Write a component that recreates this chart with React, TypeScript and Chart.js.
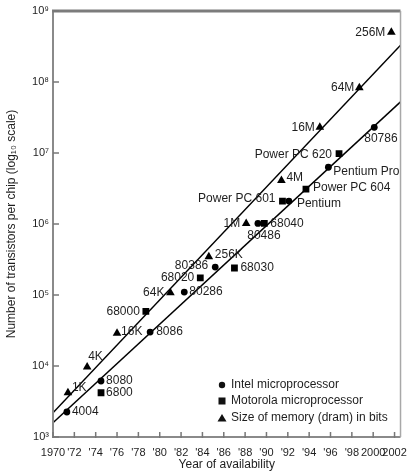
import React, { useEffect, useRef } from 'react';
import { Chart, registerables } from 'chart.js';

Chart.register(...registerables);

// ---- data ----
const intelNames = ['4004', '8080', '8086', '80286', '80386', '80486', 'Pentium', 'Pentium Pro', '80786'];
const intelYears = [1971.3, 1974.5, 1979.1, 1982.3, 1985.2, 1989.2, 1992.1, 1995.8, 2000.1];
const intelCounts = [2250, 6150, 30000, 110000, 247000, 1.02e6, 2.1e6, 6.3e6, 2.3e7];

const motorolaNames = ['6800', '68000', '68020', '68030', '68040', 'Power PC 601', 'Power PC 604', 'Power PC 620'];
const motorolaYears = [1974.5, 1978.7, 1983.8, 1987.0, 1989.8, 1991.5, 1993.7, 1996.8];
const motorolaCounts = [4200, 59000, 174000, 240000, 1.02e6, 2.1e6, 3.1e6, 9.8e6];

const dramNames = ['1K', '4K', '16K', '64K', '256K', '1M', '4M', '16M', '64M', '256M'];
const dramYears = [1971.4, 1973.2, 1976.0, 1981.0, 1984.6, 1988.1, 1991.4, 1995.0, 1998.7, 2001.7];
const dramCounts = [4200, 9700, 29000, 108000, 347000, 1.02e6, 4.1e6, 2.3e7, 8.3e7, 5.0e8];

const trendYears = [1970, 2002.56];
const upperTrend = [2190, 3.3e8];
const lowerTrend = [1585, 5.25e7];

const xTickYears = [1970, 1972, 1974, 1976, 1978, 1980, 1982, 1984, 1986, 1988, 1990, 1992, 1994, 1996, 1998, 2000, 2002];
const xTickLabels = ['1970', "'72", "'74", "'76", "'78", "'80", "'82", "'84", "'86", "'88", "'90", "'92", "'94", "'96", "'98", '2000', '2002'];
const yTicks = [1e3, 1e4, 1e5, 1e6, 1e7, 1e8, 1e9];
const yTickLabels = ['10³', '10⁴', '10⁵', '10⁶', '10⁷', '10⁸', '10⁹'];

const legendLabels = ['Intel microprocessor', 'Motorola microprocessor', 'Size of memory (dram) in bits'];
const xTitle = 'Year of availability';
const yTitle = 'Number of transistors per chip (log₁₀ scale)';

// ---- label placement (styling) : [dx, dy, align] ----
const labelPlacement: Record<string, [number, number, CanvasTextAlign]> = {
  '4004': [5, 0, 'left'],
  '8080': [5, 0, 'left'],
  '8086': [6, 0, 'left'],
  '80286': [5, 0, 'left'],
  '80386': [-7, -1, 'right'],
  '80486': [6, 12, 'center'],
  'Pentium': [8, 3, 'left'],
  'Pentium Pro': [5, 4, 'left'],
  '80786': [-10, 11, 'left'],
  '6800': [5, 0, 'left'],
  '68000': [-6, 0, 'right'],
  '68020': [-6, 0, 'right'],
  '68030': [6, 0, 'left'],
  '68040': [6, 0, 'left'],
  'Power PC 601': [-7, -2, 'right'],
  'Power PC 604': [7, -1, 'left'],
  'Power PC 620': [-7, 1, 'right'],
  '1K': [4, -5, 'left'],
  '4K': [1, -10, 'left'],
  '16K': [4, -1, 'left'],
  '64K': [-6, 0, 'right'],
  '256K': [6, -2, 'left'],
  '1M': [-6, 0, 'right'],
  '4M': [5, -3, 'left'],
  '16M': [-5, 0, 'right'],
  '64M': [-5, 0, 'right'],
  '256M': [-6, 0, 'right'],
};

const FONT = '"Liberation Sans", Arial, Helvetica, sans-serif';
const TEXT = '#1e1e1e';

const toPoints = (xs: number[], ys: number[]) => xs.map((x, i) => ({ x, y: ys[i] }));

const decorPlugin = {
  id: 'decor',
  afterDatasetsDraw(chart: any) {
    const { ctx, chartArea: a, scales } = chart;
    const xs = scales.x;
    const ys = scales.y;
    ctx.save();
    // axes / frame
    ctx.strokeStyle = '#8a8a8a';
    ctx.lineWidth = 2;
    ctx.beginPath();
    ctx.moveTo(a.left, a.top);
    ctx.lineTo(a.left, a.bottom);
    ctx.lineTo(a.right, a.bottom);
    ctx.stroke();
    ctx.strokeStyle = '#7c7c7c';
    ctx.lineWidth = 3;
    ctx.beginPath();
    ctx.moveTo(a.left - 1, a.top);
    ctx.lineTo(a.right, a.top);
    ctx.stroke();
    ctx.strokeStyle = '#a8a8a8';
    ctx.lineWidth = 1.5;
    ctx.beginPath();
    ctx.moveTo(a.right, a.top);
    ctx.lineTo(a.right, a.bottom);
    ctx.stroke();
    // inward ticks
    ctx.strokeStyle = '#777';
    ctx.lineWidth = 1.5;
    yTicks.forEach((v) => {
      const y = ys.getPixelForValue(v);
      ctx.beginPath();
      ctx.moveTo(a.left, y);
      ctx.lineTo(a.left + 6, y);
      ctx.stroke();
    });
    xTickYears.forEach((v) => {
      const x = xs.getPixelForValue(v);
      ctx.beginPath();
      ctx.moveTo(x, a.bottom + 1);
      ctx.lineTo(x, a.bottom - 5);
      ctx.stroke();
    });

    // point labels
    ctx.fillStyle = TEXT;
    ctx.font = `12px ${FONT}`;
    ctx.textBaseline = 'middle';
    const groups: [string[], number[], number[]][] = [
      [intelNames, intelYears, intelCounts],
      [motorolaNames, motorolaYears, motorolaCounts],
      [dramNames, dramYears, dramCounts],
    ];
    groups.forEach(([names, yrs, cnts]) => {
      names.forEach((n, i) => {
        const px = xs.getPixelForValue(yrs[i]);
        const py = ys.getPixelForValue(cnts[i]);
        const [dx, dy, al] = labelPlacement[n] || [5, 0, 'left'];
        ctx.textAlign = al;
        ctx.fillText(n, px + dx, py + dy);
      });
    });

    // legend
    const lx = 222;
    const rows = [385, 401, 418];
    ctx.fillStyle = '#111';
    ctx.beginPath();
    ctx.arc(lx, rows[0], 3.2, 0, Math.PI * 2);
    ctx.fill();
    ctx.fillRect(lx - 3.5, rows[1] - 3.5, 7, 7);
    ctx.beginPath();
    ctx.moveTo(lx, rows[2] - 4);
    ctx.lineTo(lx + 4.5, rows[2] + 3.5);
    ctx.lineTo(lx - 4.5, rows[2] + 3.5);
    ctx.closePath();
    ctx.fill();
    ctx.fillStyle = TEXT;
    ctx.textAlign = 'left';
    ctx.font = `12px ${FONT}`;
    legendLabels.forEach((t, i) => ctx.fillText(t, lx + 9, rows[i]));
    ctx.restore();
  },
};

export default function App() {
  const ref = useRef<HTMLCanvasElement | null>(null);
  useEffect(() => {
    document.body.style.margin = '0';
    const canvas = ref.current;
    if (!canvas) return;
    const chart = new Chart(canvas, {
      type: 'scatter',
      data: {
        datasets: [
          {
            type: 'line',
            data: toPoints(trendYears, upperTrend),
            borderColor: '#000',
            borderWidth: 1.5,
            pointRadius: 0,
            fill: false,
          } as any,
          {
            type: 'line',
            data: toPoints(trendYears, lowerTrend),
            borderColor: '#000',
            borderWidth: 1.5,
            pointRadius: 0,
            fill: false,
          } as any,
          {
            label: legendLabels[0],
            data: toPoints(intelYears, intelCounts),
            pointStyle: 'circle',
            pointRadius: 3.4,
            backgroundColor: '#000',
            borderColor: '#000',
            borderWidth: 0,
          },
          {
            label: legendLabels[1],
            data: toPoints(motorolaYears, motorolaCounts),
            pointStyle: 'rect',
            pointRadius: 4.8,
            backgroundColor: '#000',
            borderColor: '#000',
            borderWidth: 0,
          },
          {
            label: legendLabels[2],
            data: toPoints(dramYears, dramCounts),
            pointStyle: 'triangle',
            pointRadius: 5,
            backgroundColor: '#000',
            borderColor: '#000',
            borderWidth: 0,
          },
        ],
      },
      options: {
        animation: false,
        responsive: false,
        events: [],
        layout: { padding: { left: 0, right: 13, top: 11, bottom: 0 } },
        plugins: { legend: { display: false }, tooltip: { enabled: false } },
        scales: {
          x: {
            type: 'linear',
            min: 1970,
            max: 2002.56,
            grid: { display: false, drawTicks: false },
            border: { display: false },
            afterBuildTicks: (s: any) => {
              s.ticks = xTickYears.map((v) => ({ value: v }));
            },
            afterFit: (s: any) => {
              s.height = 37;
            },
            ticks: {
              autoSkip: false,
              maxRotation: 0,
              padding: 9,
              color: TEXT,
              font: { family: FONT, size: 11 },
              callback: (v: any) => {
                const i = xTickYears.indexOf(Number(v));
                return i >= 0 ? xTickLabels[i] : '';
              },
            },
            title: {
              display: true,
              text: xTitle,
              color: TEXT,
              font: { family: FONT, size: 12 },
              padding: { top: 0, bottom: 2 },
            },
          },
          y: {
            type: 'logarithmic',
            min: 1e3,
            max: 1e9,
            grid: { display: false, drawTicks: false },
            border: { display: false },
            afterBuildTicks: (s: any) => {
              s.ticks = yTicks.map((v) => ({ value: v }));
            },
            afterFit: (s: any) => {
              s.width = 53;
            },
            ticks: {
              autoSkip: false,
              padding: 4,
              color: TEXT,
              font: { family: FONT, size: 11 },
              callback: (v: any) => {
                const i = yTicks.indexOf(Number(v));
                return i >= 0 ? yTickLabels[i] : '';
              },
            },
            title: {
              display: true,
              text: yTitle,
              color: TEXT,
              font: { family: FONT, size: 12 },
              padding: { top: 4, bottom: 0 },
            },
          },
        },
      },
      plugins: [decorPlugin],
    });
    return () => chart.destroy();
  }, []);
  return (
    <div style={{ width: 416, height: 474, background: '#fff' }}>
      <canvas ref={ref} width={416} height={474} style={{ display: 'block' }} />
    </div>
  );
}
